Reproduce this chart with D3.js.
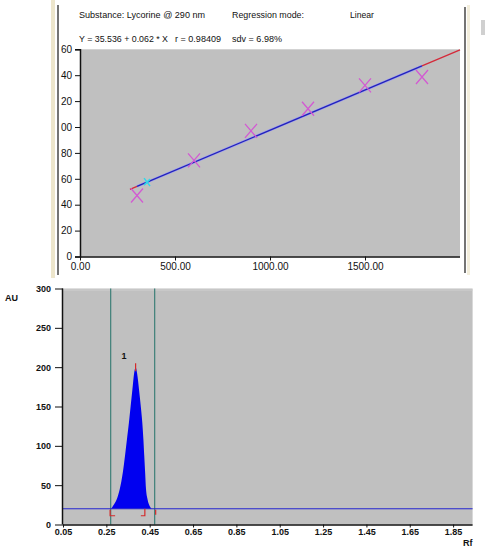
<!DOCTYPE html>
<html><head><meta charset="utf-8">
<script src="https://cdn.jsdelivr.net/npm/d3@7"></script>
<style>
body{margin:0;background:#fff;}
svg text{font-family:Arial,"Liberation Sans",sans-serif;fill:#111;}
</style></head>
<body><svg id="c" width="491" height="550"></svg>
<script>
// ---------- data: calibration (top) ----------
const calAmount = [300, 600, 900, 1200, 1500, 1800];
const calArea   = [47.1, 74.2, 97.0, 114.1, 132.1, 138.6];
const regIntercept = 35.536, regSlope = 0.062;
const regRedLow  = [263, 300];
const regBlue    = [300, 1800];
const regRedHigh = [1800, 2000];
const cyanMarkX = 353;
const topXTicks = [0, 500, 1000, 1500];
const topXTickLabels = ["0.00", "500.00", "1000.00", "1500.00"];
const topYTicks = [0, 20, 40, 60, 80, 100, 120, 140, 160];
const topYTickLabels = ["0", "20", "40", "60", "80", "00", "20", "40", "60"];
const headerLine1 = ["Substance: Lycorine @ 290 nm", "Regression mode:", "Linear"];
const headerLine2 = ["Y = 35.536 + 0.062 * X", "r = 0.98409", "sdv = 6.98%"];

// ---------- data: chromatogram (bottom) ----------
const peakRf = [0.272,0.282,0.298,0.312,0.326,0.336,0.345,0.354,0.362,0.370,0.378,0.385,
                0.392,0.401,0.409,0.416,0.421,0.425,0.429,0.433,0.440,0.451,0.460];
const peakAU = [20,24,32,45,66,87,108,129,150,171,192,200,
                192,171,150,129,108,87,66,45,32,23,20];
const baselineAU = 20;
const windowRf = [0.27, 0.473];
const peakLabel = "1";
const botXTicks = [0.05,0.25,0.45,0.65,0.85,1.05,1.25,1.45,1.65,1.85];
const botYTicks = [0,50,100,150,200,250,300];

const svg = d3.select("#c");

// ---------- top frame ----------
svg.append("rect").attr("x",51).attr("y",0).attr("width",4).attr("height",278).attr("fill","#ede6cc");
svg.append("line").attr("x1",58).attr("x2",58).attr("y1",5).attr("y2",275).attr("stroke","#2a2a2a").attr("stroke-width",1.3);
svg.append("line").attr("x1",465).attr("x2",465).attr("y1",7).attr("y2",273).attr("stroke","#2a2a2a").attr("stroke-width",1.3);
svg.append("rect").attr("x",467).attr("y",5).attr("width",3).attr("height",270).attr("fill","#f3eedc");
svg.append("rect").attr("x",481).attr("y",20).attr("width",4).attr("height",15).attr("fill","#d0d0d0");

// header (widths fitted to the reference)
const hdr = svg.append("g").attr("font-size",9.5);
const fit = (x,y,t,w)=>hdr.append("text").attr("x",x).attr("y",y).attr("textLength",w)
  .attr("lengthAdjust","spacingAndGlyphs").text(t);
fit(79,18,headerLine1[0],126);
fit(232,18,headerLine1[1],72);
fit(350,18,headerLine1[2],24);
fit(79,42,headerLine2[0],89);
fit(175,42,headerLine2[1],46);
fit(232,42,headerLine2[2],50);

// top chart
const tx = d3.scaleLinear().domain([0,2000]).range([80,460]);
const ty = d3.scaleLinear().domain([0,160]).range([256.5,49.3]);
svg.append("rect").attr("x",tx(0)).attr("y",ty(160)).attr("width",tx(2000)-tx(0)).attr("height",ty(0)-ty(160)).attr("fill","#c0c0c0");

const yAxisT = d3.axisLeft(ty).tickValues(topYTicks).tickSize(5).tickPadding(3)
  .tickFormat((d,i)=>topYTickLabels[i]);
const gy = svg.append("g").attr("transform",`translate(${tx(0)},0)`).call(yAxisT);
const xAxisT = d3.axisBottom(tx).tickValues(topXTicks).tickSize(4).tickPadding(2)
  .tickFormat((d,i)=>topXTickLabels[i]);
const gx = svg.append("g").attr("transform",`translate(0,${ty(0)})`).call(xAxisT);
[gy,gx].forEach(g=>{g.attr("font-size",10).attr("font-family","Arial, Liberation Sans, sans-serif");
  g.select(".domain").attr("stroke","#111").attr("stroke-width",1.5);
  g.selectAll(".tick line").attr("stroke","#111");
  g.selectAll(".tick text").attr("fill","#111");});
gx.select(".domain").attr("d",`M${tx(0)},0.5H${tx(2000)}`);

const reg = x => regIntercept + regSlope*x;
const seg = (r,col,w)=>svg.append("line").attr("x1",tx(r[0])).attr("y1",ty(reg(r[0])))
  .attr("x2",tx(r[1])).attr("y2",ty(reg(r[1]))).attr("stroke",col).attr("stroke-width",w);
seg(regBlue,"#a0a0ee",2.6);
seg(regBlue,"#2323b8",1.3);
seg(regRedLow,"#d42a3a",1.3);
seg(regRedHigh,"#d42a3a",1.3);

// cyan mark
const cx0=tx(cyanMarkX), cy0=ty(reg(cyanMarkX));
svg.append("path").attr("d",`M${cx0-3},${cy0-4}L${cx0+3},${cy0+4}M${cx0-3},${cy0+3}L${cx0+3},${cy0-3}`)
  .attr("stroke","#30d8e8").attr("stroke-width",1.5);

// markers
svg.append("g").selectAll("path").data(calAmount).join("path")
  .attr("d",(d,i)=>{const x=tx(d),y=ty(calArea[i]);return `M${x-6},${y-7}L${x+6},${y+7}M${x-6},${y+7}L${x+6},${y-7}`;})
  .attr("stroke","#d25ad2").attr("stroke-width",1.3).attr("fill","none");

// ---------- bottom chart ----------
const bx = d3.scaleLinear().domain([0.05,1.94]).range([63,472.6]);
const by = d3.scaleLinear().domain([0,300]).range([524.5,288.5]);
svg.append("rect").attr("x",bx(0.05)).attr("y",by(300)).attr("width",bx(1.94)-bx(0.05)).attr("height",by(0)-by(300)).attr("fill","#c0c0c0");
svg.append("line").attr("x1",bx(0.05)).attr("x2",bx(1.94)).attr("y1",by(300)+1.5).attr("y2",by(300)+1.5).attr("stroke","#cfcfcf");

// window lines
svg.append("g").selectAll("line").data(windowRf).join("line")
  .attr("x1",d=>bx(d)).attr("x2",d=>bx(d)).attr("y1",by(300)).attr("y2",by(0))
  .attr("stroke","#3d7f78").attr("stroke-width",1.2);

// peak area
const area = d3.area().x((d,i)=>bx(peakRf[i])).y0(by(baselineAU)).y1((d,i)=>by(peakAU[i])).curve(d3.curveMonotoneX);
svg.append("path").datum(peakAU).attr("d",area).attr("fill","#0000f0");

// baseline
svg.append("line").attr("x1",bx(0.05)).attr("x2",bx(1.94)).attr("y1",by(baselineAU)).attr("y2",by(baselineAU))
  .attr("stroke","#2424d0").attr("stroke-width",1);

// peak markers
const apexI = peakAU.indexOf(d3.max(peakAU));
const ax = bx(peakRf[apexI]), ay = by(peakAU[apexI]);
svg.append("line").attr("x1",ax).attr("x2",ax).attr("y1",ay-4).attr("y2",ay+4).attr("stroke","#d42a2a").attr("stroke-width",1.2);
svg.append("text").attr("x",ax-14).attr("y",ay-8).attr("font-size",9).attr("font-weight","bold").text(peakLabel);
const sx = bx(peakRf[0]), ex = bx(peakRf[peakRf.length-1]), bl = by(baselineAU);
svg.append("path").attr("d",`M${sx-1},${bl+1}V${bl+7}H${sx+4}`).attr("stroke","#d42a2a").attr("fill","none").attr("stroke-width",1.2);
svg.append("path").attr("d",`M${ex-11},${bl+7}H${ex-7}V${bl}`).attr("stroke","#d42a2a").attr("fill","none").attr("stroke-width",1.2);
svg.append("line").attr("x1",bx(windowRf[1])+1).attr("x2",bx(windowRf[1])+1).attr("y1",bl+1).attr("y2",bl+6).attr("stroke","#d42a2a").attr("stroke-width",1.2);

// axes
const bya = svg.append("g").attr("transform",`translate(${bx(0.05)},0)`)
  .call(d3.axisLeft(by).tickValues(botYTicks).tickSize(8).tickPadding(4).tickFormat(d3.format("d")));
const bxa = svg.append("g").attr("transform",`translate(0,${by(0)})`)
  .call(d3.axisBottom(bx).tickValues(botXTicks).tickSize(3).tickPadding(1).tickFormat(d3.format(".2f")));
[bya,bxa].forEach(g=>{g.attr("font-size",9).attr("font-family","Arial, Liberation Sans, sans-serif");
  g.select(".domain").attr("stroke","#111").attr("stroke-width",1.5);
  g.selectAll(".tick line").attr("stroke","#111");
  g.selectAll(".tick text").attr("fill","#222").attr("font-weight","bold");});
bya.select(".domain").attr("d",`M-0.5,${by(300)}V${by(0)}`);
bxa.select(".domain").attr("d",`M${bx(0.05)},0.5H${bx(1.94)}`);

svg.append("text").attr("x",5).attr("y",301).attr("font-size",9).attr("font-weight","bold").text("AU");
svg.append("text").attr("x",463).attr("y",546).attr("font-size",9).attr("font-weight","bold").text("Rf");
</script></body></html>
